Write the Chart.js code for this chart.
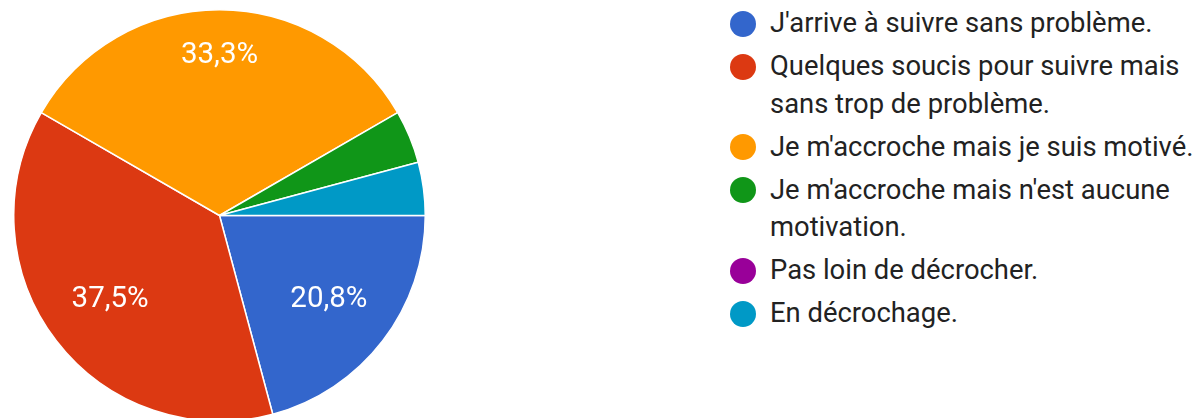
<!DOCTYPE html>
<html>
<head>
<meta charset="utf-8">
<script src="https://cdn.jsdelivr.net/npm/chart.js@4.4.1/dist/chart.umd.min.js"></script>
<style>
  html, body { margin: 0; padding: 0; background: #fff; width: 1200px; height: 418px; overflow: hidden; }
  .pie-container { position: absolute; left: 13px; top: 9px; width: 413px; height: 413px; }
  #legend { position: absolute; left: 730px; top: 5px; width: 470px; list-style: none; margin: 0; padding: 0;
    font-family: Roboto, Arial, sans-serif; font-size: 27.4px; line-height: 37.5px; color: #222; }
  #legend li { position: relative; padding-left: 40px; margin-bottom: 5.5px; width: 430px; }
  #legend .dot { position: absolute; left: 0; top: 5.5px; width: 26px; height: 26px; border-radius: 50%; }
</style>
</head>
<body>
<div class="pie-container">
  <canvas id="pie-chart"></canvas>
</div>
<ul id="legend"></ul>
<script>
// Answers (labels) and number of responses for each one
const answers = [
  "J'arrive à suivre sans problème.",
  "Quelques soucis pour suivre mais sans trop de problème.",
  "Je m'accroche mais je suis motivé.",
  "Je m'accroche mais n'est aucune motivation.",
  "Pas loin de décrocher.",
  "En décrochage."
];
const responses = [5, 9, 8, 1, 0, 1];
const sliceColors = ["#3366CC", "#DC3912", "#FF9900", "#109618", "#990099", "#0099C6"];

const total = responses.reduce((a, b) => a + b, 0);

// Percent labels drawn inside the slices (google forms style)
const sliceText = {
  id: 'sliceText',
  afterDatasetsDraw(chart) {
    const ctx = chart.ctx;
    const meta = chart.getDatasetMeta(0);
    ctx.save();
    ctx.font = '29.5px Roboto, Arial, sans-serif';
    ctx.fillStyle = '#fff';
    ctx.textAlign = 'center';
    ctx.textBaseline = 'middle';
    meta.data.forEach((arc, i) => {
      const pct = responses[i] / total * 100;
      if (pct < 10) return;
      const text = pct.toFixed(1).replace('.', ',') + '%';
      const hw = ctx.measureText(text).width / 2;
      const hh = 12;
      const mid = (arc.startAngle + arc.endAngle) / 2;
      const ux = Math.cos(mid), uy = Math.sin(mid);
      const limit = arc.outerRadius * 0.857;
      // push the label out along the middle of the slice until its box touches the limit circle
      let lo = 0, hi = arc.outerRadius;
      for (let k = 0; k < 40; k++) {
        const d = (lo + hi) / 2;
        const far = Math.hypot(Math.abs(d * ux) + hw, Math.abs(d * uy) + hh);
        if (far > limit) hi = d; else lo = d;
      }
      ctx.fillText(text, arc.x + lo * ux, arc.y + lo * uy);
    });
    ctx.restore();
  }
};

new Chart(document.getElementById('pie-chart'), {
  type: 'pie',
  data: {
    labels: answers,
    datasets: [{
      data: responses,
      backgroundColor: sliceColors,
      borderColor: '#fff',
      borderWidth: 1.5
    }]
  },
  options: {
    responsive: true,
    maintainAspectRatio: false,
    animation: false,
    rotation: 90,
    layout: { padding: 0 },
    plugins: {
      legend: { display: false },
      tooltip: { enabled: false }
    }
  },
  plugins: [sliceText]
});

// Legend on the right, built from the same arrays
const legend = document.getElementById('legend');
answers.forEach((answer, i) => {
  const li = document.createElement('li');
  const dot = document.createElement('span');
  dot.className = 'dot';
  dot.style.background = sliceColors[i];
  li.appendChild(dot);
  li.appendChild(document.createTextNode(answer));
  legend.appendChild(li);
});
</script>
</body>
</html>
